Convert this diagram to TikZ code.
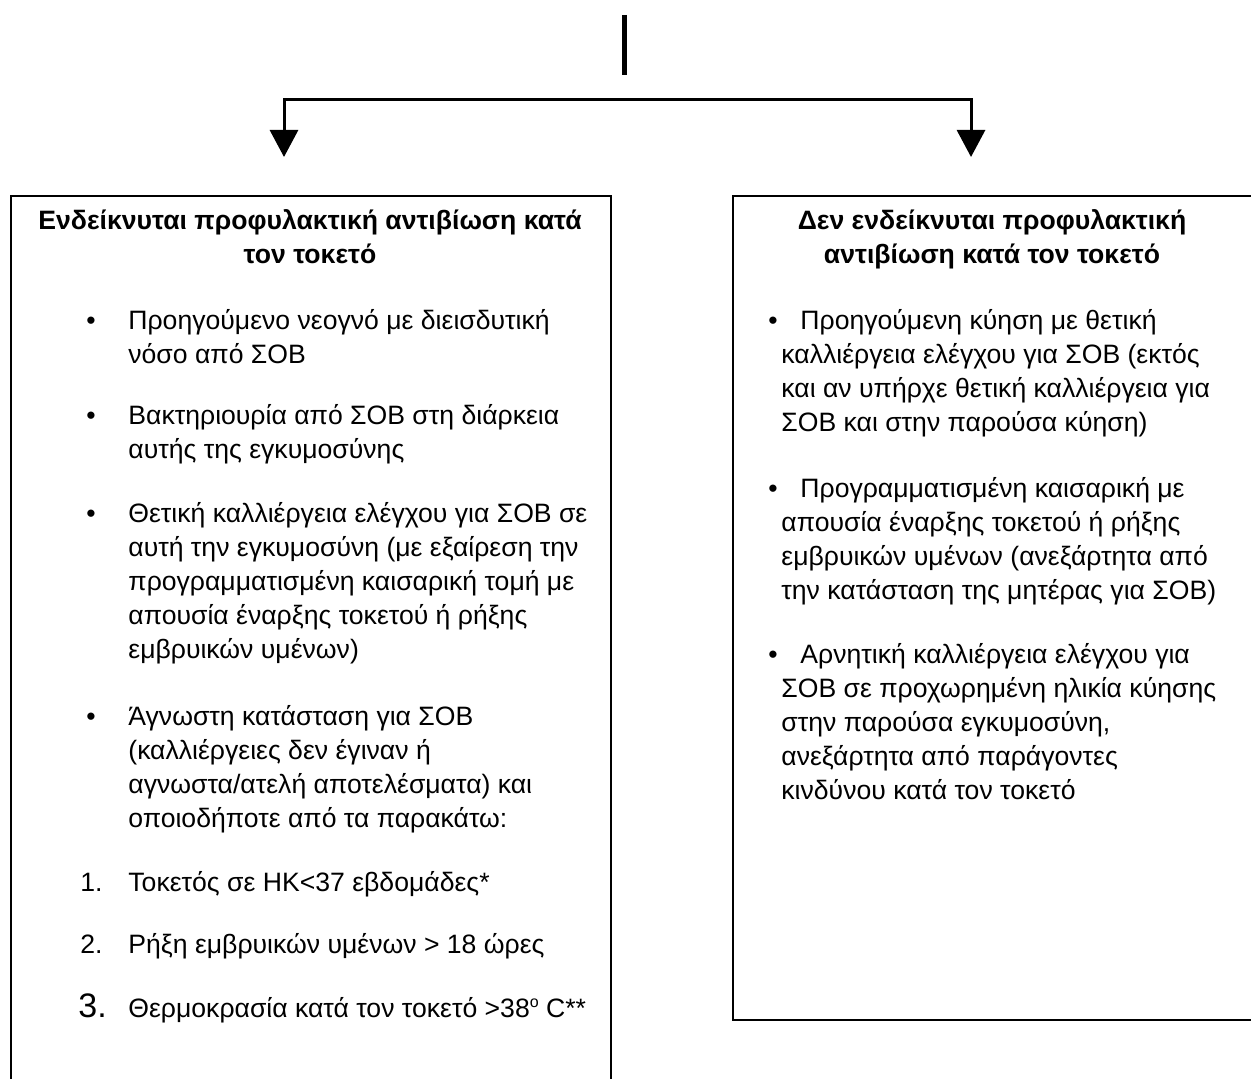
\documentclass[tikz,border=0pt]{standalone}
\usepackage{fontspec}
\setmainfont{Liberation Sans}
\usetikzlibrary{arrows.meta}

\newcommand{\itemfont}{\fontsize{13.3}{17}\selectfont}

\tikzset{
    box/.style={draw, line width=1pt, rectangle, inner sep=0pt, anchor=north west},
    head/.style={anchor=north, inner sep=0pt, align=center, font=\itemfont\bfseries},
    entry/.style={anchor=north west, inner sep=0pt, align=left, font=\itemfont},
    conn/.style={line width=1.5pt, {Triangle[length=13.5pt, width=14pt]}-{Triangle[length=13.5pt, width=14pt]}}
}

\begin{document}
\begin{tikzpicture}[x=0.5pt, y=-0.5pt]
    \useasboundingbox (0,0) rectangle (1251,1079);
    \clip (0,0) rectangle (1251,1079);

    % 1. Khung hai nhánh
    \node[box, minimum width=300pt, minimum height=447.5pt] (yes-box) at (10,195) {};
    \node[box, minimum width=260pt, minimum height=412pt] (no-box) at (732,195) {};

    % 2. Đường phân nhánh
    \coordinate (stem-top) at (624,15);
    \coordinate (stem-bot) at (624,75);
    \coordinate (tip-l) at (284,157);
    \coordinate (tip-r) at (971,157);
    \coordinate (split-r) at (971,100);
    \draw[line width=2.5pt] (stem-top) -- (stem-bot);
    \draw[conn] (tip-l) |- (split-r) -- (tip-r);

    % 3. Nhánh trái
    \node[head] (yes-title) at (310,205) {\strut Ενδείκνυται προφυλακτική αντιβίωση κατά\\τον τοκετό};

    \node[entry] (yes-b1) at (86,305) {\strut •};
    \node[entry] (yes-1) at (128,305) {\strut Προηγούμενο νεογνό με διεισδυτική\\νόσο από ΣΟΒ};
    \node[entry] (yes-b2) at (86,400) {\strut •};
    \node[entry] (yes-2) at (128,400) {\strut Βακτηριουρία από ΣΟΒ στη διάρκεια\\αυτής της εγκυμοσύνης};
    \node[entry] (yes-b3) at (86,498) {\strut •};
    \node[entry] (yes-3) at (128,498) {\strut Θετική καλλιέργεια ελέγχου για ΣΟΒ σε\\αυτή την εγκυμοσύνη (με εξαίρεση την\\προγραμματισμένη καισαρική τομή με\\απουσία έναρξης τοκετού ή ρήξης\\εμβρυικών υμένων)};
    \node[entry] (yes-b4) at (86,701) {\strut •};
    \node[entry] (yes-4) at (128,701) {\strut Άγνωστη κατάσταση για ΣΟΒ\\(καλλιέργειες δεν έγιναν ή\\αγνωστα/ατελή αποτελέσματα) και\\οποιοδήποτε από τα παρακάτω:};

    \node[entry] (risk-1) at (80,867) {\strut\makebox[24pt][l]{1.}Τοκετός σε ΗΚ<37 εβδομάδες*};
    \node[entry] (risk-2) at (80,929) {\strut\makebox[24pt][l]{2.}Ρήξη εμβρυικών υμένων > 18 ώρες};
    \node[entry] (risk-3) at (78,993) {\strut\makebox[25pt][l]{\fontsize{17}{17}\selectfont 3.}Θερμοκρασία κατά τον τοκετό >38\raisebox{5pt}{\fontsize{8}{8}\selectfont o} C**};

    % 4. Nhánh phải
    \node[head] (no-title) at (992,205) {\strut Δεν ενδείκνυται προφυλακτική\\αντιβίωση κατά τον τοκετό};

    \node[entry] (no-b1) at (768,305) {\strut •};
    \node[entry] (no-1) at (781,305) {\strut\hspace*{9.5pt}Προηγούμενη κύηση με θετική\\καλλιέργεια ελέγχου για ΣΟΒ (εκτός\\και αν υπήρχε θετική καλλιέργεια για\\ΣΟΒ και στην παρούσα κύηση)};
    \node[entry] (no-b2) at (768,473) {\strut •};
    \node[entry] (no-2) at (781,473) {\strut\hspace*{9.5pt}Προγραμματισμένη καισαρική με\\απουσία έναρξης τοκετού ή ρήξης\\εμβρυικών υμένων (ανεξάρτητα από\\την κατάσταση της μητέρας για ΣΟΒ)};
    \node[entry] (no-b3) at (768,639) {\strut •};
    \node[entry] (no-3) at (781,639) {\strut\hspace*{9.5pt}Αρνητική καλλιέργεια ελέγχου για\\ΣΟΒ σε προχωρημένη ηλικία κύησης\\στην παρούσα εγκυμοσύνη,\\ανεξάρτητα από παράγοντες\\κινδύνου κατά τον τοκετό};
\end{tikzpicture}
\end{document}
